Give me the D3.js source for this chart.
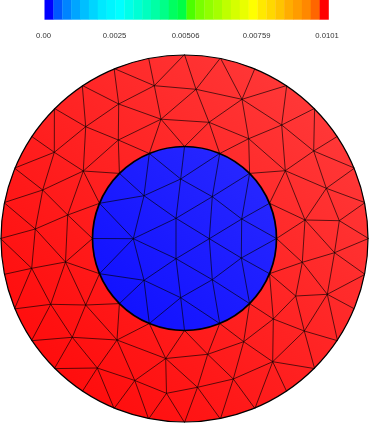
<!DOCTYPE html>
<html>
<head>
<meta charset="utf-8">
<script src="https://cdn.jsdelivr.net/npm/d3@7"></script>
<style>
html,body{margin:0;padding:0;background:#fff;overflow:hidden}
svg{display:block;filter:blur(0.3px)}
</style>
</head>
<body>
<div id="chart"></div>
<script>
// Colour bar
const legendColors = ["#0000ff","#0058ff","#0084ff","#00a5ff","#00bfff","#00d5ff","#00e9ff","#00f5ff",
  "#00ffff","#00ffe9","#00ffd5","#00ffbf","#00ffa5","#00ff88","#00ff60","#00ff44",
  "#4cff00","#78ff00","#90ff00","#a5ff00","#bfff00","#d5ff00","#e9ff00","#ffff00",
  "#ffe900","#ffd800","#ffc400","#ffad00","#ff9c00","#ff8800","#ff6600","#ff0000"];
const legendTicks = [0, 0.00253, 0.00506, 0.00759, 0.0101];
const legendLabels = ["0.00", "0.0025", "0.00506", "0.00759", "0.0101"];

// Mesh geometry, model units (outer radius 184, inner radius 92)
const outerRadius = 184;
const innerRadius = 92;
const outerNodes = [
  ["o0",184,0],["o1",180.5,35.9],["o2",170,70.4],["o3",153,102.2],["o4",130.1,130.1],["o5",102.2,153],["o6",70.4,170],["o7",35.9,180.5],
  ["o8",0,184],["o9",-35.9,180.5],["o10",-70.4,170],["o11",-102.2,153],["o12",-130.1,130.1],["o13",-153,102.2],["o14",-170,70.4],["o15",-180.5,35.9],
  ["o16",-184,0],["o17",-180.5,-35.9],["o18",-170,-70.4],["o19",-153,-102.2],["o20",-130.1,-130.1],["o21",-102.2,-153],["o22",-70.4,-170],["o23",-35.9,-180.5],
  ["o24",0,-184],["o25",35.9,-180.5],["o26",70.4,-170],["o27",102.2,-153],["o28",130.1,-130.1],["o29",153,-102.2],["o30",170,-70.4],["o31",180.5,-35.9]
];
const innerNodes = [
  ["i0",92,0],["i1",85,35.2],["i2",65.1,65.1],["i3",35.2,85],["i4",0,92],["i5",-35.2,85],["i6",-65.1,65.1],["i7",-85,35.2],
  ["i8",-92,0],["i9",-85,-35.2],["i10",-65.1,-65.1],["i11",-35.2,-85],["i12",0,-92],["i13",35.2,-85],["i14",65.1,-65.1],["i15",85,-35.2]
];
const blueNodes = [
  ["b0",-3.8,59.5],["b1",-40.5,42.8],["b2",27.8,41.8],["b3",-8.5,20.2],["b4",57.2,19.5],["b5",-51.2,-0.2],
  ["b6",24.8,-0.2],["b7",-8.5,-20.2],["b8",56.8,-19.5],["b9",-40.5,-41.8],["b10",27.8,-41.2],["b11",-3.8,-59.2]
];
const redNodes = [
  ["A1",-30.2,152.8],["A2",-65.8,134.5],["A3",-23.5,119.3],["A4",-98.8,111.8],["A5",-66.2,98.5],
  ["A6",-130.2,86.2],["A7",-101.2,67.5],["A8",-141.8,48.5],["A9",-116.8,23.5],["A10",-149.2,9.5],
  ["B1",11.5,149.2],["B2",57.5,139.2],["B3",24.5,116.2],["B4",97.2,113.5],["B5",64.2,99.8],
  ["B6",129.2,87.5],["B7",100.8,67.8],["B8",141.8,50.2],["B9",120.5,18.5],["B10",154.8,17.8],
  ["C1",150,-14.2],["C2",117.8,-23.8],["C3",111.2,-57.5],["C4",142.8,-55.8],["C5",88.8,-80.5],["C6",119.8,-92.5],
  ["C7",59.2,-103.2],["C8",88.2,-123.2],["C9",23.2,-115.8],["C10",48.8,-140.5],["C11",13,-148.8],
  ["D1",-152.8,-29.8],["D2",-119,-23.5],["D3",-133.8,-65.8],["D4",-98.8,-66.5],["D5",-112.2,-98.8],
  ["D6",-67.5,-101.5],["D7",-87.2,-129.5],["D8",-49.7,-142],["D9",-18.8,-120],["D10",-18,-154.8]
];
const blueEdges = ("i4-b0 i5-b0 i3-b0 i5-b1 i6-b1 i7-b1 b0-b1 b0-b2 i3-b2 i2-b2 b2-b4 i2-b4 i1-b4 i0-b4 " +
  "b0-b3 b1-b3 b2-b3 b1-b5 b3-b5 i7-b5 i8-b5 b3-b6 b2-b6 b4-b6 b4-b8 i0-b8 i15-b8 b6-b8 b5-b7 b6-b7 b3-b7 " +
  "b5-b9 i9-b5 i9-b9 i10-b9 i11-b9 b7-b9 b7-b11 b9-b11 b7-b10 b6-b10 b8-b10 b10-b11 i11-b11 i12-b11 i13-b11 " +
  "i13-b10 i14-b10 i14-b8").split(" ");
const redEdges = ("o9-A1 o10-A1 o8-A1 o10-A2 o11-A2 o11-A4 A1-A2 A1-A3 A1-B1 A2-A3 A2-A4 A2-A5 A3-A5 A3-B1 A3-B3 " +
  "A3-i4 A3-i5 A4-A5 A4-o12 A4-A6 A4-A7 A5-A7 A5-i5 A5-i6 A7-i6 A7-i7 A7-A9 A7-A8 A7-A6 A6-o12 A6-o13 A6-o14 A6-A8 " +
  "A8-o14 A8-o15 A8-A10 A8-A9 A9-A10 A9-i7 A9-i8 A9-D2 A10-o15 A10-o16 A10-D1 A10-D2 " +
  "B1-o8 B1-o7 B1-B2 B1-B3 B2-o7 B2-o6 B2-o5 B2-B3 B2-B4 B2-B5 B3-B5 B3-i3 B3-i4 B5-i3 B5-i2 B5-B7 B5-B4 " +
  "B4-o5 B4-o4 B4-B6 B4-B7 B6-o4 B6-o3 B6-o2 B6-B7 B6-B8 B8-o2 B8-o1 B8-B7 B8-B9 B8-B10 B7-B9 B7-i1 B7-i2 " +
  "B9-i1 B9-i0 B9-B10 B9-C2 B9-C1 B10-o1 B10-o0 B10-C1 " +
  "C1-o0 C1-o31 C1-C2 C1-C4 C2-i0 C2-i15 C2-C3 C2-C4 C3-i15 C3-C4 C3-C5 C3-C6 C4-o31 C4-o30 C4-o29 C4-C6 " +
  "C5-i14 C5-i15 C5-C6 C5-C7 C5-C8 C6-C8 C6-o29 C6-o28 C7-i13 C7-i14 C7-C8 C7-C9 C7-C10 C8-C10 C8-o26 C8-o27 C8-o28 " +
  "C9-i12 C9-i13 C9-C10 C9-C11 C9-D9 C10-C11 C10-o25 C10-o26 C11-o24 C11-o25 C11-D10 C11-D9 " +
  "D1-o16 D1-o17 D1-o18 D1-D2 D1-D3 D2-i8 D2-i9 D2-D3 D2-D4 D3-o18 D3-o19 D3-D4 D3-D5 D4-D5 D4-D6 D4-i9 D4-i10 " +
  "D5-o19 D5-o20 D5-D6 D5-D7 D6-D7 D6-i10 D6-i11 D6-D8 D6-D9 D7-o20 D7-o21 D7-o22 D7-D8 D8-o22 D8-o23 D8-D9 D8-D10 " +
  "D9-i11 D9-i12 D9-D10 D10-o23 D10-o24").split(" ");

const width = 369, height = 423;
const x = d3.scaleLinear().domain([-184, 184]).range([0.5, 368.5]);
const y = d3.scaleLinear().domain([-184, 184]).range([422.5, 54.5]);
const rScale = d3.scaleLinear().domain([0, 184]).range([0, 184]);

const svg = d3.select("#chart").append("svg").attr("width", width).attr("height", height);
const defs = svg.append("defs");

function addGradient(id, stops) {
  const g = defs.append("linearGradient").attr("id", id)
    .attr("gradientUnits", "userSpaceOnUse")
    .attr("x1", x(-130)).attr("y1", y(-130)).attr("x2", x(130)).attr("y2", y(130));
  stops.forEach((c, i) => g.append("stop").attr("offset", i / (stops.length - 1)).attr("stop-color", c));
}
addGradient("redShade", ["#ff0d0d", "#ff3737"]);
addGradient("blueShade", ["#0808ff", "#3030ff"]);

// discs
svg.append("circle").attr("cx", x(0)).attr("cy", y(0)).attr("r", rScale(outerRadius)-0.5)
  .attr("fill", "url(#redShade)");
svg.append("circle").attr("cx", x(0)).attr("cy", y(0)).attr("r", rScale(innerRadius))
  .attr("fill", "url(#blueShade)");

// mesh
const nodeById = new Map([...outerNodes, ...innerNodes, ...blueNodes, ...redNodes].map(d => [d[0], d]));
const meshEdges = [...redEdges, ...blueEdges].map(s => s.split("-").map(id => nodeById.get(id)));
const edgeLine = d3.line().x(d => x(d[1])).y(d => y(d[2]));
svg.append("g").selectAll("path").data(meshEdges).join("path")
  .attr("d", edgeLine)
  .attr("fill", "none").attr("stroke", "#000").attr("stroke-width", 0.8).attr("stroke-opacity", 0.8);

// boundaries
svg.append("circle").attr("cx", x(0)).attr("cy", y(0)).attr("r", rScale(innerRadius))
  .attr("fill", "none").attr("stroke", "#000").attr("stroke-width", 1.7);
svg.append("circle").attr("cx", x(0)).attr("cy", y(0)).attr("r", rScale(outerRadius)-0.5)
  .attr("fill", "none").attr("stroke", "#000").attr("stroke-width", 1.2);

// colour bar
const band = d3.scaleBand().domain(d3.range(legendColors.length)).range([44.5, 328.5]);
svg.append("g").selectAll("rect").data(legendColors).join("rect")
  .attr("x", (d, i) => band(i)).attr("y", 0)
  .attr("width", band.bandwidth() + 0.3).attr("height", 19.7)
  .attr("fill", d => d);

const tickScale = d3.scaleLinear().domain([0, 0.0101]).range([43.5, 327]);
svg.append("g").selectAll("text").data(legendTicks).join("text")
  .attr("x", d => tickScale(d)).attr("y", 37.7)
  .attr("text-anchor", "middle")
  .attr("font-family", "'Liberation Sans', Arial, sans-serif")
  .attr("font-size", 7.7).attr("fill", "#333")
  .text((d, i) => legendLabels[i]);
</script>
</body>
</html>
